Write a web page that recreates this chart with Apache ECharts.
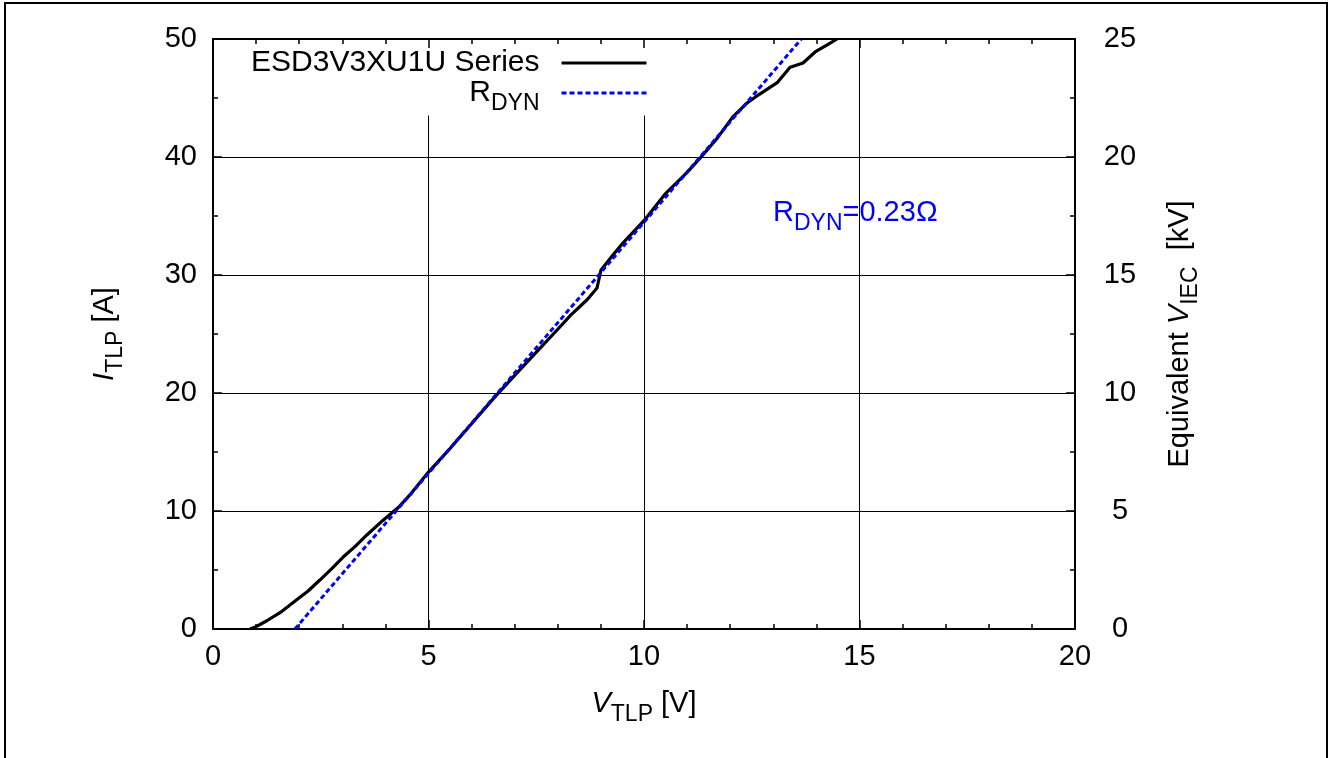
<!DOCTYPE html>
<html>
<head>
<meta charset="utf-8">
<title>ESD3V3XU1U TLP characteristic</title>
<script src="https://cdn.jsdelivr.net/npm/echarts@6/dist/echarts.min.js"></script>
<style>
  html, body { margin: 0; padding: 0; background: #fff; }
  #chart { width: 1330px; height: 758px; }
</style>
</head>
<body>
<div id="chart"></div>
<script>
// Measured TLP curve: voltage [V] and current [A]
const vTlp = [0.86, 1.0, 1.25, 1.6, 1.95, 2.2, 2.48, 2.75, 3.02, 3.3, 3.57, 3.94, 4.3, 4.6,
  5.0, 5.5, 6.0, 6.5, 7.0, 7.59, 8.0, 8.3, 8.68, 8.91, 9.0, 9.28, 9.51, 10.0, 10.5, 11.0,
  11.3, 11.7, 12.06, 12.4, 12.65, 13.09, 13.39, 13.69, 13.97, 14.25, 14.48];
const iTlp = [0, 0.2, 0.7, 1.5, 2.5, 3.2, 4.15, 5.1, 6.1, 7.0, 7.97, 9.2, 10.3, 11.5,
  13.3, 15.3, 17.4, 19.5, 21.5, 23.8, 25.4, 26.6, 27.9, 28.9, 30.4, 31.7, 32.7, 34.6, 36.9, 38.7,
  39.9, 41.6, 43.4, 44.6, 45.25, 46.3, 47.6, 47.97, 48.9, 49.5, 50];

// Dynamic resistance fit line (0.23 ohm)
const rdynV = [1.9, 13.65];
const rdynI = [0, 50];

// Axis settings
const xTicks = { min: 0, max: 20, step: 5 };
const yTicks = { min: 0, max: 50, step: 10 };
const y2Ticks = { min: 0, max: 25, step: 5 };

const seriesName = 'ESD3V3XU1U Series';
const fitName = 'RDYN';
const fitLabel = '=0.23Ω';

const FONT = '"Liberation Sans", Arial, Helvetica, sans-serif';
const BLUE = '#0000ff';
const FS = 29;

function richSet(color, size) {
  const main = size || FS;
  return {
    n: { fontFamily: FONT, fontSize: main, color: color },
    i: { fontFamily: FONT, fontSize: main, fontStyle: 'italic', color: color },
    s: { fontFamily: FONT, fontSize: 23, color: color, padding: [22, 0, 0, 0] }
  };
}

const zip = (a, b) => a.map((v, k) => [v, b[k]]);

const chart = echarts.init(document.getElementById('chart'), null, { renderer: 'canvas' });

const tickStyle = { color: '#000', width: 1.5 };
const labelStyle = { fontFamily: FONT, fontSize: FS, color: '#000' };

const option = {
  backgroundColor: '#fff',
  animation: false,
  grid: { left: 213, right: 255, top: 39, bottom: 129, containLabel: false },
  legend: {
    orient: 'vertical',
    align: 'right',
    right: 674,
    top: 40,
    padding: [8, 8, 0, 12],
    itemGap: 0,
    itemWidth: 85,
    itemHeight: 14,
    backgroundColor: '#fff',
    z: 3,
    selectedMode: false,
    itemStyle: { opacity: 0 },
    lineStyle: { width: 3 },
    data: [seriesName, fitName],
    formatter: function (name) {
      return name === fitName ? '{n|R}{s|DYN}' : '{n|' + name + '}';
    },
    textStyle: {
      fontFamily: FONT, fontSize: 30, color: '#000',
      padding: [0, 17, 0, 0],
      rich: richSet('#000', 30)
    }
  },
  xAxis: [
    {
      type: 'value', position: 'bottom',
      min: xTicks.min, max: xTicks.max, interval: xTicks.step,
      name: '{i|V}{s|TLP}{n| [V]}',
      nameLocation: 'middle', nameGap: 52,
      nameTextStyle: { rich: richSet('#000') },
      axisLine: { show: true, onZero: false, lineStyle: { color: '#000', width: 2 } },
      axisTick: { show: true, inside: true, length: 9, lineStyle: tickStyle },
      minorTick: { show: true, splitNumber: 5, length: 5, lineStyle: tickStyle },
      splitLine: { show: true, lineStyle: { color: '#000', width: 1 } },
      axisLabel: Object.assign({ margin: 13 }, labelStyle)
    },
    {
      type: 'value', position: 'top', z: 10,
      min: xTicks.min, max: xTicks.max, interval: xTicks.step,
      axisLine: { show: true, onZero: false, lineStyle: { color: '#000', width: 2 } },
      axisTick: { show: true, inside: true, length: 9, lineStyle: tickStyle },
      minorTick: { show: true, splitNumber: 5, length: 5, lineStyle: tickStyle },
      splitLine: { show: false },
      axisLabel: { show: false }
    }
  ],
  yAxis: [
    {
      type: 'value', position: 'left',
      min: yTicks.min, max: yTicks.max, interval: yTicks.step,
      name: '{i|I}{s|TLP}{n| [A]}',
      nameLocation: 'middle', nameGap: 86, nameRotate: 90,
      nameTextStyle: { rich: richSet('#000') },
      axisLine: { show: true, onZero: false, lineStyle: { color: '#000', width: 2 } },
      axisTick: { show: true, inside: true, length: 9, lineStyle: tickStyle },
      minorTick: { show: true, splitNumber: 2, length: 5, lineStyle: tickStyle },
      splitLine: { show: true, lineStyle: { color: '#000', width: 1 } },
      axisLabel: Object.assign({ margin: 16 }, labelStyle)
    },
    {
      type: 'value', position: 'right',
      min: y2Ticks.min, max: y2Ticks.max, interval: y2Ticks.step,
      name: '{n|Equivalent }{i|V}{s|IEC}{n|  [kV]}',
      nameLocation: 'middle', nameGap: 82, nameRotate: 90,
      nameTextStyle: { rich: richSet('#000') },
      axisLine: { show: true, onZero: false, lineStyle: { color: '#000', width: 2 } },
      axisTick: { show: true, inside: true, length: 9, lineStyle: tickStyle },
      minorTick: { show: true, splitNumber: 2, length: 5, lineStyle: tickStyle },
      splitLine: { show: false },
      axisLabel: Object.assign({ margin: 45, align: 'center' }, labelStyle)
    }
  ],
  series: [
    {
      name: seriesName, type: 'line',
      xAxisIndex: 0, yAxisIndex: 0,
      data: zip(vTlp, iTlp),
      symbol: 'none', smooth: false, clip: true,
      lineStyle: { color: '#000', width: 3.2 },
      itemStyle: { color: '#000' },
      z: 3
    },
    {
      name: fitName, type: 'line',
      xAxisIndex: 0, yAxisIndex: 0,
      data: zip(rdynV, rdynI),
      symbol: 'none', clip: true,
      lineStyle: { color: BLUE, width: 3, type: [5, 3] },
      itemStyle: { color: BLUE },
      z: 4
    }
  ],
  graphic: [
    {
      type: 'rect', silent: true, z: 0,
      shape: { x: 5, y: 3, width: 1322, height: 800 },
      style: { fill: 'none', stroke: '#000', lineWidth: 2 }
    },
    {
      type: 'text', silent: true, z: 20,
      left: 773, top: 198,
      style: {
        text: '{n|R}{s|DYN}{n|' + fitLabel + '}',
        rich: richSet(BLUE),
        fill: BLUE
      }
    }
  ]
};

chart.setOption(option);
</script>
</body>
</html>
